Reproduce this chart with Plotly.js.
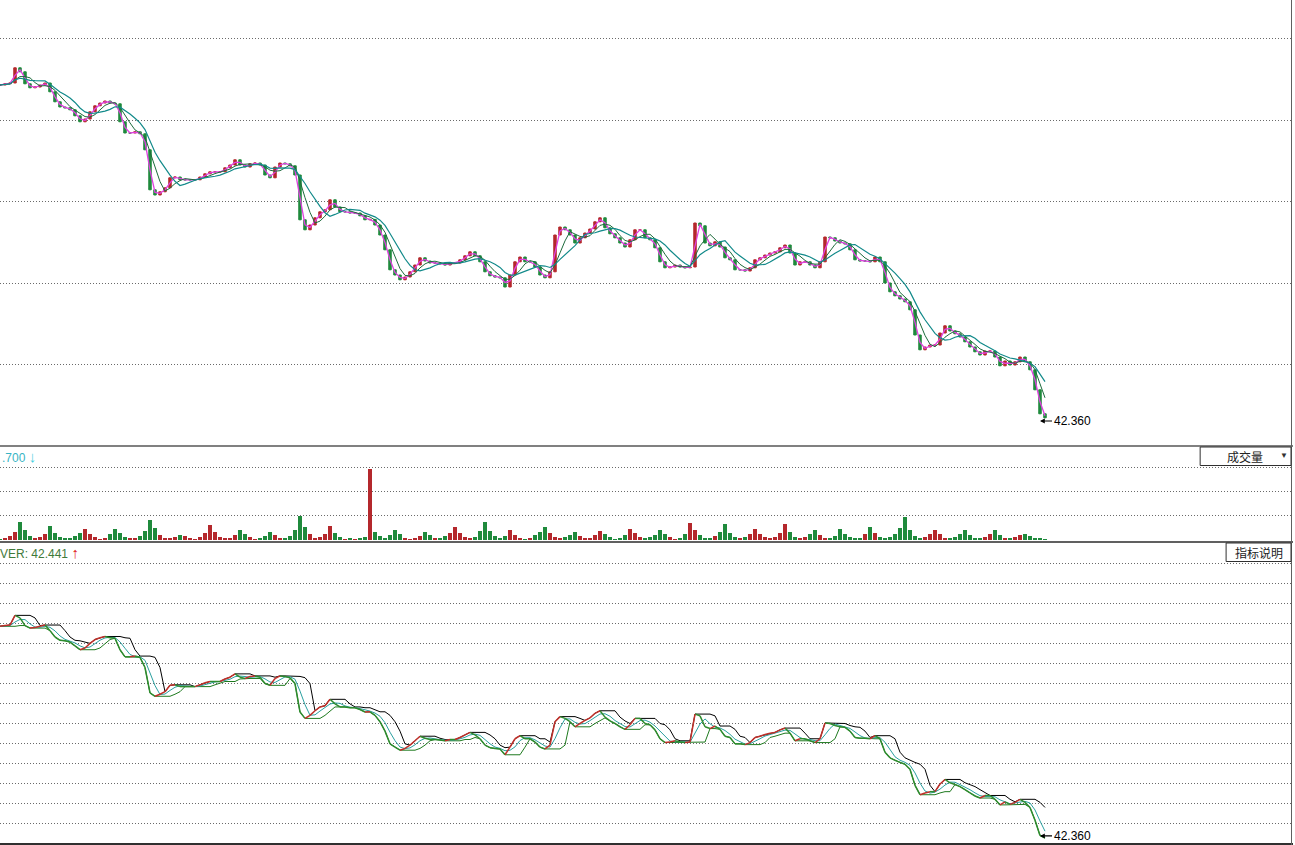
<!DOCTYPE html>
<html><head><meta charset="utf-8">
<script src="https://cdn.plot.ly/plotly-3.0.1.min.js"></script>
<style>html,body{margin:0;padding:0;background:#fff;overflow:hidden}#chart{width:1295px;height:845px}</style>
</head><body><div id="chart"></div>
<script>
// ---- data (one value per ~5 px step) ----
const closePrices = [
  50.76, 50.79, 50.81, 51.19, 51.09, 50.79, 50.69, 50.71, 50.76, 50.81,
  50.59, 50.34, 50.21, 50.19, 50.14, 49.99, 49.84, 49.91, 50.09, 50.24,
  50.31, 50.36, 50.31, 50.29, 49.84, 49.56, 49.56, 49.59, 49.54, 49.14,
  48.14, 48.01, 48.09, 48.19, 48.44, 48.46, 48.39, 48.39, 48.39, 48.39,
  48.46, 48.54, 48.59, 48.59, 48.59, 48.69, 48.76, 48.89, 48.76, 48.71,
  48.79, 48.81, 48.76, 48.51, 48.44, 48.71, 48.81, 48.79, 48.74, 48.51,
  47.39, 47.14, 47.26, 47.44, 47.59, 47.64, 47.89, 47.71, 47.59, 47.59,
  47.56, 47.56, 47.49, 47.39, 47.40, 47.26, 47.01, 46.64, 46.14, 46.01,
  45.89, 45.96, 46.09, 46.26, 46.44, 46.36, 46.31, 46.31, 46.29, 46.26,
  46.31, 46.31, 46.39, 46.49, 46.59, 46.49, 46.34, 46.09, 45.99, 45.96,
  45.94, 45.71, 46.01, 46.34, 46.46, 46.34, 46.34, 46.21, 46.01, 45.94,
  46.09, 47.01, 47.21, 47.14, 47.01, 46.81, 46.94, 47.06, 47.16, 47.34,
  47.44, 47.19, 47.04, 46.94, 46.81, 46.71, 46.89, 47.14, 47.14, 46.94,
  46.89, 46.69, 46.34, 46.19, 46.21, 46.26, 46.21, 46.19, 46.21, 47.31,
  47.24, 46.81, 46.74, 46.84, 46.71, 46.44, 46.39, 46.14, 46.14, 46.11,
  46.19, 46.39, 46.44, 46.51, 46.56, 46.59, 46.69, 46.76, 46.56, 46.26,
  46.34, 46.34, 46.26, 46.19, 46.34, 46.96, 46.94, 46.86, 46.81, 46.79,
  46.64, 46.39, 46.36, 46.36, 46.34, 46.46, 46.34, 45.81, 45.59, 45.49,
  45.41, 45.34, 45.14, 44.51, 44.14, 44.21, 44.26, 44.26, 44.56, 44.74,
  44.61, 44.54, 44.46, 44.34, 44.21, 44.09, 44.01, 44.11, 44.11, 43.96,
  43.74, 43.86, 43.76, 43.84, 43.96, 43.84, 43.64, 43.14, 42.54, 42.44
];
const volumes = [
  60, 90, 150, 320, 750, 420, 180, 90, 130, 250,
  570, 300, 140, 70, 90, 160, 280, 450, 260, 120,
  60, 100, 230, 450, 300, 130, 70, 80, 160, 380,
  820, 480, 200, 90, 70, 110, 200, 150, 90, 60,
  120, 280, 610, 330, 140, 70, 100, 220, 400, 240,
  110, 60, 90, 180, 330, 210, 100, 80, 150, 420,
  980, 520, 230, 100, 110, 260, 570, 300, 130, 60,
  70, 60, 80, 120, 2950, 350, 160, 90, 200, 400,
  230, 100, 60, 90, 180, 330, 200, 90, 70, 150,
  300, 530, 280, 120, 70, 130, 380, 750, 380, 150,
  80, 180, 400, 220, 100, 60, 90, 200, 330, 530,
  270, 110, 70, 130, 200, 330, 180, 80, 90, 200,
  370, 240, 110, 60, 100, 200, 450, 280, 120, 70,
  120, 220, 400, 250, 110, 60, 100, 250, 700, 420,
  200, 90, 80, 160, 330, 650, 300, 120, 70, 130,
  250, 450, 260, 110, 70, 140, 300, 650, 320, 130,
  70, 120, 250, 400, 220, 100, 80, 160, 450, 260,
  120, 70, 100, 240, 530, 300, 120, 70, 110, 260,
  500, 940, 420, 180, 80, 110, 250, 400, 230, 100,
  70, 130, 260, 400, 220, 100, 80, 140, 260, 400,
  220, 100, 70, 110, 200, 250, 160, 90, 70, 60
];
const lowestPrice = 42.36;
const lowestLabel = "42.360";
const lowestIndex = 208;
const volumeLabel = ".700";
const indicatorLabel = "VER: 42.441";
const volumeButton = "成交量";
const indicatorButton = "指标说明";
const priceGrid = [43.785, 45.81, 47.86, 49.885, 51.935];
const volumeGrid = [1000, 2000, 3000];
const indicatorGridStart = 43.028, indicatorGridStep = 0.786;

// ---- derived series ----
const idx = closePrices.map((_, i) => i);
const opens = closePrices.map((c, i) => i === 0 ? c : closePrices[i - 1]);
const highs = closePrices.map((c, i) => Math.max(c, opens[i]));
const lows = closePrices.map((c, i) => Math.min(c, opens[i]));
function ma(a, n) { return a.map((_, i) => { const s = a.slice(Math.max(0, i - n + 1), i + 1); return s.reduce((p, q) => p + q, 0) / s.length; }); }
function rmax(a, n) { return a.map((_, i) => Math.max(...a.slice(Math.max(0, i - n + 1), i + 1))); }
function rmin(a, n) { return a.map((_, i) => Math.min(...a.slice(Math.max(0, i - n + 1), i + 1))); }
const up = '#b4282c', down = '#1f8a3c';
const volColors = closePrices.map((c, i) => (i > 0 && c >= closePrices[i - 1]) ? up : down);
function segs(rising) {
  const xs = [], ys = [];
  for (let i = 1; i < closePrices.length; i++) {
    const r = closePrices[i] > closePrices[i - 1];
    if (r === rising) { xs.push(i - 1, i, null); ys.push(closePrices[i - 1], closePrices[i], null); }
  }
  return { xs, ys };
}
const riseSeg = segs(true), fallSeg = segs(false);

const W = 1295, H = 845;
const px = v => v / W, py = v => 1 - v / H;

const traces = [
  { type: 'candlestick', x: idx, open: opens, high: highs, low: lows, close: closePrices,
    increasing: { line: { color: up, width: 1 }, fillcolor: up },
    decreasing: { line: { color: down, width: 1 }, fillcolor: down },
    whiskerwidth: 0, hoverinfo: 'skip', xaxis: 'x', yaxis: 'y', showlegend: false },
  { type: 'scatter', mode: 'lines', x: idx, y: ma(closePrices, 2), line: { color: '#e040e0', width: 1.3 }, yaxis: 'y', hoverinfo: 'skip', showlegend: false },
  { type: 'scatter', mode: 'lines', x: idx, y: ma(closePrices, 4), line: { color: '#1d6b3c', width: 1 }, yaxis: 'y', hoverinfo: 'skip', showlegend: false },
  { type: 'scatter', mode: 'lines', x: idx, y: ma(closePrices, 7), line: { color: '#128a8a', width: 1.2 }, yaxis: 'y', hoverinfo: 'skip', showlegend: false },
  { type: 'bar', x: idx, y: volumes, marker: { color: volColors, line: { width: 0 } }, width: 0.9, yaxis: 'y2', hoverinfo: 'skip', showlegend: false },
  { type: 'scatter', mode: 'lines', x: idx, y: rmax(closePrices, 4), line: { color: '#000000', width: 1 }, yaxis: 'y3', hoverinfo: 'skip', showlegend: false },
  { type: 'scatter', mode: 'lines', x: idx, y: rmin(closePrices, 4), line: { color: '#1e7a1e', width: 1 }, yaxis: 'y3', hoverinfo: 'skip', showlegend: false },
  { type: 'scatter', mode: 'lines', x: idx, y: ma(closePrices, 3), line: { color: '#2aa0a0', width: 1 }, yaxis: 'y3', hoverinfo: 'skip', showlegend: false },
  { type: 'scatter', mode: 'lines', x: fallSeg.xs, y: fallSeg.ys, line: { color: '#2e8b2e', width: 1.5 }, connectgaps: false, yaxis: 'y3', hoverinfo: 'skip', showlegend: false },
  { type: 'scatter', mode: 'lines', x: riseSeg.xs, y: riseSeg.ys, line: { color: '#c0302a', width: 1.5 }, connectgaps: false, yaxis: 'y3', hoverinfo: 'skip', showlegend: false }
];

const gridStyle = { showgrid: true, gridcolor: '#6a6a6a', gridwidth: 1, griddash: '1px,2px', zeroline: false, showticklabels: false, ticks: '', showline: false, fixedrange: true };
const font = 'Liberation Sans, Arial, sans-serif';
const cjk = 'Noto Sans CJK SC, sans-serif';

const layout = {
  width: W, height: H,
  margin: { l: 0, r: 2, t: 0, b: 0 },
  paper_bgcolor: '#ffffff', plot_bgcolor: '#ffffff',
  showlegend: false, hovermode: false, dragmode: false, bargap: 0,
  xaxis: { range: [0, 258.6], visible: false, showgrid: false, zeroline: false, rangeslider: { visible: false }, fixedrange: true },
  yaxis: Object.assign({}, gridStyle, { domain: [py(446), 1], range: [52.885 - 446 / 40, 52.885], tickmode: 'array', tickvals: priceGrid }),
  yaxis2: Object.assign({}, gridStyle, { domain: [py(541), py(447)], range: [-41, 3843], tickmode: 'array', tickvals: volumeGrid, anchor: 'x' }),
  yaxis3: Object.assign({}, gridStyle, { domain: [py(843), py(543)], range: [42.242, 54.035], tickmode: 'linear', tick0: indicatorGridStart, dtick: indicatorGridStep, anchor: 'x' }),
  shapes: [
    { type: 'line', xref: 'paper', yref: 'paper', x0: 0, x1: 1, y0: py(446), y1: py(446), line: { color: '#808080', width: 2 } },
    { type: 'line', xref: 'paper', yref: 'paper', x0: 0, x1: 1, y0: py(542), y1: py(542), line: { color: '#606060', width: 2 } },
    { type: 'line', xref: 'paper', yref: 'paper', x0: 0, x1: 1, y0: py(844), y1: py(844), line: { color: '#303030', width: 2 } },
    { type: 'line', xref: 'paper', yref: 'paper', x0: px(1293.5), x1: px(1293.5), y0: 0, y1: 1, line: { color: '#606060', width: 1 } },
    { type: 'rect', xref: 'paper', yref: 'paper', x0: px(1202), x1: px(1293), y0: py(465.5), y1: py(447), line: { color: '#303030', width: 1 }, fillcolor: '#ffffff' },
    { type: 'rect', xref: 'paper', yref: 'paper', x0: px(1228), x1: px(1293), y0: py(561.5), y1: py(543), line: { color: '#303030', width: 1 }, fillcolor: '#ffffff' }
  ],
  annotations: [
    { x: lowestIndex, y: lowestPrice, xref: 'x', yref: 'y', text: lowestLabel, showarrow: true, ax: 32, ay: 0, arrowhead: 2, arrowsize: 0.8, arrowwidth: 1.2, arrowcolor: '#000', standoff: 0, font: { family: font, size: 12, color: '#000' } },
    { x: lowestIndex, y: 42.52, xref: 'x', yref: 'y3', text: lowestLabel, showarrow: true, ax: 32, ay: 0, arrowhead: 2, arrowsize: 0.8, arrowwidth: 1.2, arrowcolor: '#000', standoff: 0, font: { family: font, size: 12, color: '#000' } },
    { x: px(0), y: py(456.5), xref: 'paper', yref: 'paper', xanchor: 'left', yanchor: 'middle', showarrow: false, text: volumeLabel + ' <b style="color:#46d0e0;font-size:15px">↓</b>', font: { family: font, size: 12, color: '#38b4c4' } },
    { x: px(-2), y: py(552), xref: 'paper', yref: 'paper', xanchor: 'left', yanchor: 'middle', showarrow: false, text: indicatorLabel + ' <b style="color:#e01818;font-size:15px">↑</b>', font: { family: font, size: 12, color: '#3f7a3a' } },
    { x: px(1247), y: py(456.5), xref: 'paper', yref: 'paper', xanchor: 'center', yanchor: 'middle', showarrow: false, text: volumeButton, font: { family: cjk, size: 12, color: '#222' } },
    { x: px(1286), y: py(455), xref: 'paper', yref: 'paper', xanchor: 'center', yanchor: 'middle', showarrow: false, text: '▼', font: { family: font, size: 8, color: '#333' } },
    { x: px(1260.5), y: py(552.5), xref: 'paper', yref: 'paper', xanchor: 'center', yanchor: 'middle', showarrow: false, text: indicatorButton, font: { family: cjk, size: 12, color: '#222' } }
  ]
};

Plotly.newPlot('chart', traces, layout, { displayModeBar: false, staticPlot: true });
</script></body></html>
